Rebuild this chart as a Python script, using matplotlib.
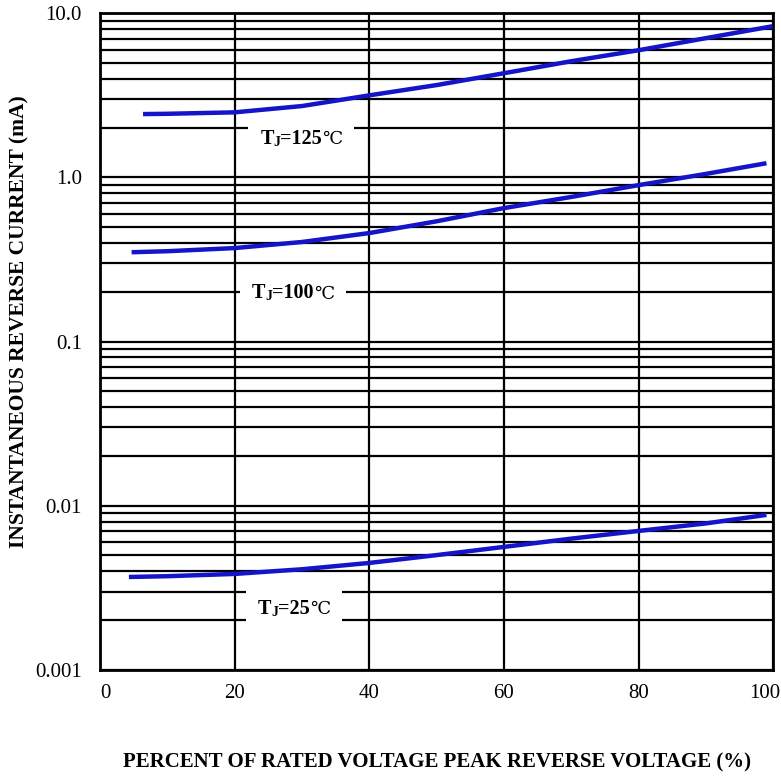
import matplotlib
matplotlib.use("Agg")
import matplotlib.pyplot as plt
from matplotlib.ticker import LogLocator, FixedLocator, NullFormatter
from matplotlib.transforms import ScaledTranslation, Bbox
from matplotlib.patches import Rectangle
import numpy as np

# ================== DATA ==================
# percent of rated voltage
x_125 = [6.4, 10, 20, 30, 40, 50, 60, 70, 80, 90, 99.9]
i_125 = [2.43, 2.44, 2.49, 2.72, 3.16, 3.65, 4.31, 5.1, 5.95, 7.05, 8.33]

x_100 = [4.7, 10, 20, 30, 40, 50, 60, 70, 80, 90, 99]
i_100 = [0.35, 0.355, 0.371, 0.404, 0.458, 0.54, 0.65, 0.76, 0.897, 1.05, 1.22]

x_25 = [4.3, 10, 20, 30, 40, 50, 60, 70, 80, 90, 99]
i_25 = [0.00368, 0.00372, 0.00384, 0.0041, 0.00448, 0.005, 0.00561, 0.0063, 0.00702, 0.0078, 0.00879]

x_ticks = [0, 20, 40, 60, 80, 100]
y_ticks = [0.001, 0.01, 0.1, 1.0, 10.0]
y_tick_labels = ["0.001", "0.01", "0.1", "1.0", "10.0"]

# label temperature, x (left), y
labels = [("125", 23.8, 1.72),
          ("100", 22.6, 0.197),
          ("25", 23.5, 0.00236)]

# ================== PLOT ==================
plt.rcParams["font.family"] = ["Liberation Serif", "DejaVu Serif"]

fig = plt.figure(figsize=(7.81, 7.78), dpi=100)
ax = fig.add_axes([0.128, 0.139, 0.862, 0.844])

ax.set_yscale("log")
ax.set_xlim(0, 100)
ax.set_ylim(0.001, 10)

line_kw = dict(color="#1414c8", lw=3.2, solid_capstyle="butt", zorder=4)
ax.plot(x_125, i_125, **line_kw)
ax.plot(x_100, i_100, **line_kw)
ax.plot(x_25, i_25, **line_kw)

# grid
ax.xaxis.set_major_locator(FixedLocator(x_ticks))
ax.yaxis.set_major_locator(FixedLocator(y_ticks))
ax.yaxis.set_minor_locator(LogLocator(base=10, subs=np.arange(2, 10)))
ax.yaxis.set_minor_formatter(NullFormatter())
ax.set_yticklabels(y_tick_labels)
ax.grid(True, which="both", axis="y", color="black", lw=1.6)
ax.grid(True, which="major", axis="x", color="black", lw=1.6)
ax.tick_params(which="both", length=0)
ax.tick_params(axis="y", pad=13, labelsize=15)
ax.tick_params(axis="x", pad=10, labelsize=15)
for s in ax.spines.values():
    s.set_linewidth(2)

xt = ax.get_xticklabels()
xt[0].set_ha("left")
xt[-1].set_ha("right")
xt[-1].set_transform(xt[-1].get_transform() + ScaledTranslation(0.07, 0, fig.dpi_scale_trans))

# TJ labels: "T" + small "J" + "=..." + "℃", white box behind
pieces = []
for temp, xx, yy in labels:
    t1 = ax.text(xx, yy, "T", ha="left", va="center", fontsize=14.5, fontweight="bold", zorder=5)
    t2 = ax.annotate("J", xy=(1, 0), xycoords=t1, ha="left", va="bottom",
                     fontsize=10, fontweight="bold", zorder=5)
    t3 = ax.annotate("=" + temp, xy=(1, 0), xycoords=t2, ha="left", va="bottom",
                     fontsize=14.5, fontweight="bold", zorder=5)
    t4 = ax.annotate("℃", xy=(1, 0), xycoords=t3, xytext=(0, 0.5), textcoords="offset points",
                     ha="left", va="bottom", fontsize=13, zorder=5)
    pieces.append((t1, t2, t3, t4))

fig.canvas.draw()
r = fig.canvas.get_renderer()
inv = ax.transData.inverted()
for grp in pieces:
    bb = Bbox.union([t.get_window_extent(r) for t in grp])
    (x0, y0), (x1, y1) = inv.transform([[bb.x0 - 12, bb.y0 - 9], [bb.x1 + 12, bb.y1 + 9]])
    ax.add_patch(Rectangle((x0, y0), x1 - x0, y1 - y0, facecolor="white",
                           edgecolor="none", zorder=3))

ax.set_xlabel("PERCENT OF RATED VOLTAGE PEAK REVERSE VOLTAGE (%)", fontsize=15,
              fontweight="bold", labelpad=36)
ax.set_ylabel("INSTANTANEOUS REVERSE CURRENT (mA)", fontsize=15.5, fontweight="bold")
ax.yaxis.set_label_coords(-0.105, 0.53)

fig.savefig("out.png", dpi=100)
